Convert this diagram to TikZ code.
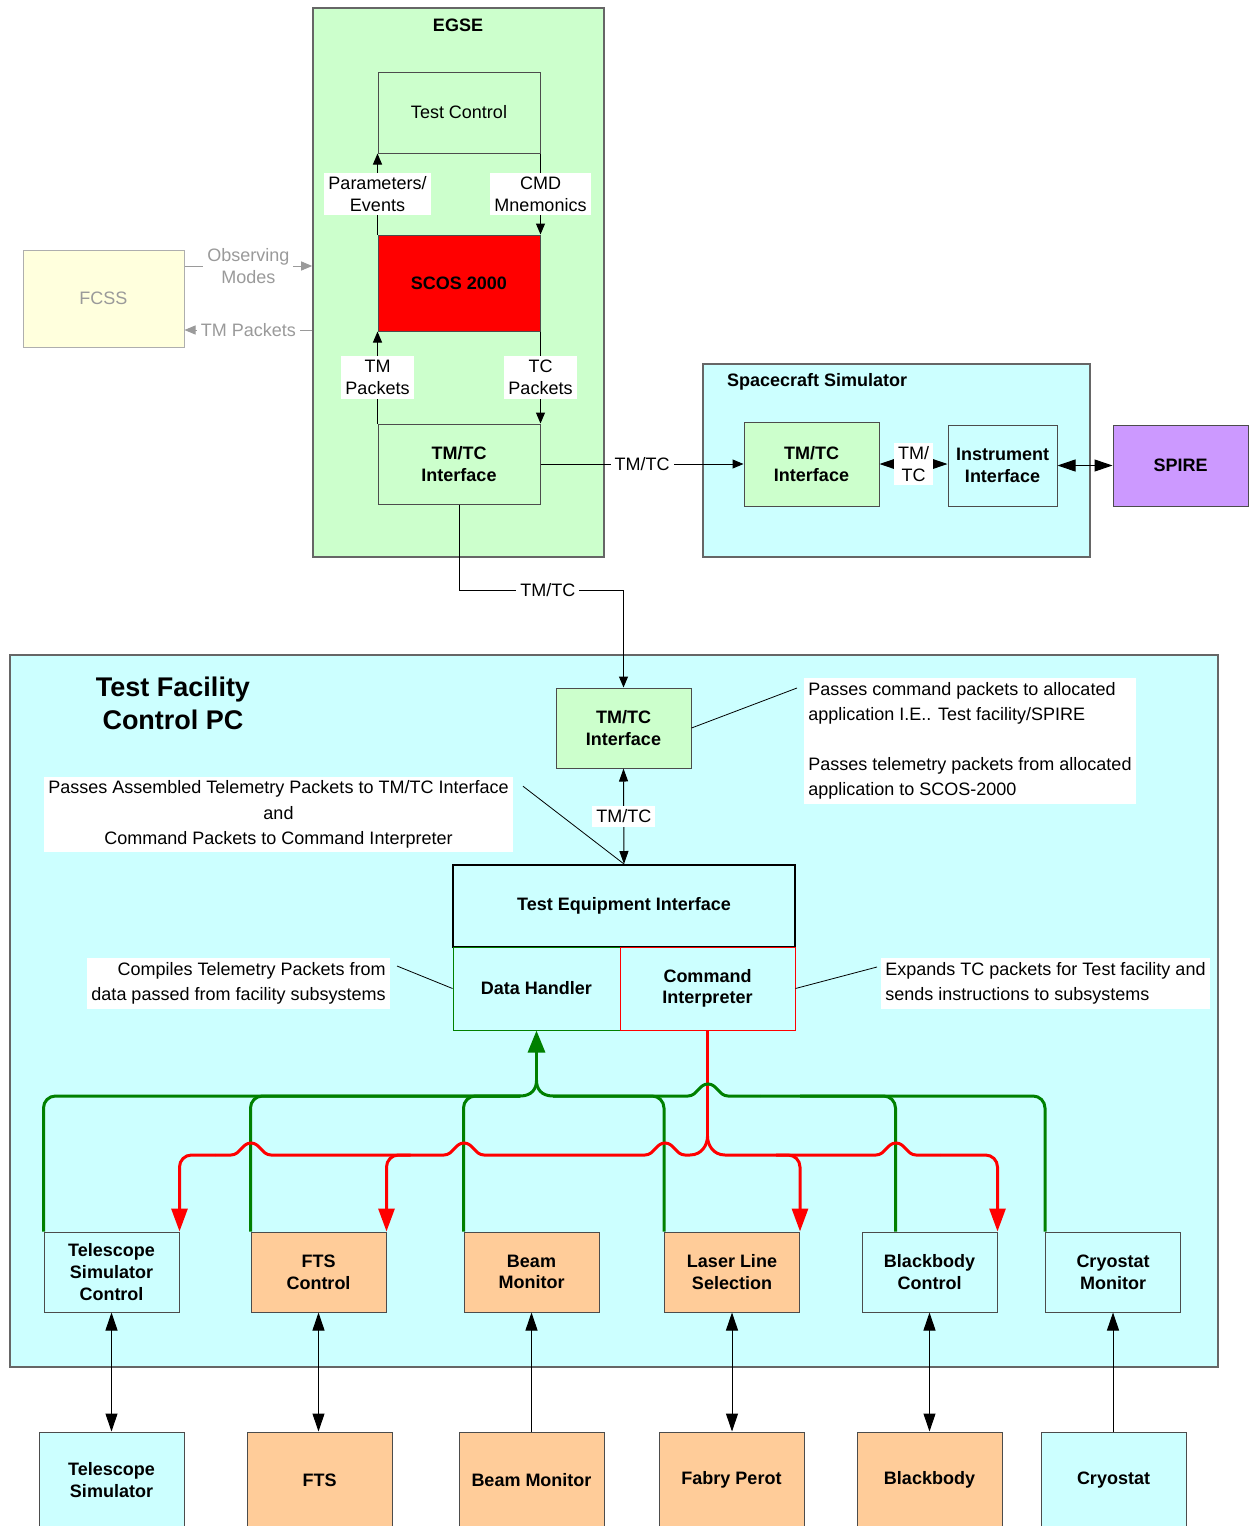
\documentclass[tikz,border=0pt]{standalone}
\usepackage{fontspec}
\setmainfont{Liberation Sans}
\usetikzlibrary{arrows.meta,calc}

\definecolor{egsegreen}{HTML}{CCFFCC}
\definecolor{pccyan}{HTML}{CCFFFF}
\definecolor{suborange}{HTML}{FFCC99}
\definecolor{spirepurple}{HTML}{CC99FF}
\definecolor{fcssyellow}{HTML}{FFFFDD}
\definecolor{fcssgray}{HTML}{9A9A9A}
\definecolor{busgreen}{HTML}{008000}

\begin{document}
\begin{tikzpicture}[x=0.5pt, y=-0.5pt,
every node/.style={font=\fontsize{9}{10.8}\selectfont},
wh/.style 2 args={minimum width=#1*0.5pt, minimum height=#2*0.5pt},
block/.style={rectangle, draw=black!70, line width=0.5pt, fill=#1, align=center,
              inner sep=1pt, font=\fontsize{9}{10.8}\selectfont\bfseries},
panel/.style={rectangle, draw=black!60, line width=0.8pt, fill=#1},
lbl/.style={fill=white, align=center, inner sep=2pt},
note/.style={fill=white, inner sep=2pt, font=\fontsize{9}{12.75}\selectfont},
line/.style={draw, line width=0.5pt, -{Triangle[length=5.5pt,width=4.5pt]}},
dline/.style={line, {Triangle[length=6.5pt,width=4.5pt]}-{Triangle[length=6.5pt,width=4.5pt]}},
bigline/.style={line, -{Triangle[length=9pt,width=6pt]}},
bigdline/.style={line, {Triangle[length=9pt,width=6pt]}-{Triangle[length=9pt,width=6pt]}},
gline/.style={line, draw=fcssgray, fill=fcssgray},
gbus/.style={draw=busgreen, line width=1.5pt},
rbus/.style={draw=red, line width=1.5pt},
roundbend/.style={rounded corners=6pt},
hop/.style 2 args={insert path={-- (#1-20,#2) .. controls (#1-11,#2) and (#1-9,#2-12) .. (#1,#2-12)
                   .. controls (#1+9,#2-12) and (#1+11,#2) .. (#1+20,#2)}}]

\path[fill=white] (0,0) rectangle (1248,1526);
\useasboundingbox (0,0) rectangle (1248,1526);

% EGSE
\node[panel=egsegreen, wh={291}{549}] (egse) at (458.5,282.5) {};
\node[font=\fontsize{9}{10.8}\selectfont\bfseries] (egsetitle) at (458,25) {EGSE};
\node[block=egsegreen, wh={162}{81}, font=\fontsize{9}{10.8}\selectfont] (testctl) at (459,112.5) {Test Control};
\node[block=red, wh={162}{96}] (scos) at (459,283) {SCOS 2000};
\node[block=egsegreen, wh={162}{80}] (egsetmtc) at (459,464) {TM/TC\\Interface};

% FCSS
\node[block=fcssyellow, draw=fcssgray!80, wh={161}{97}, text=fcssgray,
      font=\fontsize{9}{10.8}\selectfont] (fcss) at (103.5,298.5) {FCSS};

% spacecraft simulator
\node[panel=pccyan, wh={387}{193}] (scsim) at (896.5,460.5) {};
\node[anchor=west, font=\fontsize{9}{10.8}\selectfont\bfseries] (scsimtitle) at (720,382) {Spacecraft Simulator};
\node[block=egsegreen, wh={135}{84}] (sctmtc) at (811.5,464) {TM/TC\\Interface};
\node[block=pccyan, wh={109}{81}] (instif) at (1002.5,465.5) {Instrument\\Interface};
\node[block=spirepurple, wh={135}{81}] (spire) at (1180.5,465.5) {SPIRE};

% test facility control pc
\node[panel=pccyan, wh={1208}{712}] (tfcpc) at (614,1011) {};
\node[font=\fontsize{13.5}{16.5}\selectfont\bfseries, align=center] (tfcpctitle) at (173,703) {Test Facility\\Control PC};
\node[block=egsegreen, wh={135}{80}] (pctmtc) at (623.5,728) {TM/TC\\Interface};
\node[block=pccyan, draw=black, line width=1pt, wh={342}{82}] (tei) at (624,906) {Test Equipment Interface};
\node[block=pccyan, draw=busgreen, wh={167}{83}] (dh) at (536.5,988.5) {Data Handler};
\node[block=pccyan, draw=red, wh={175}{83}] (ci) at (707.5,988.5) {Command\\Interpreter};

% notes
\node[note, anchor=north west, align=left] (notetmtc) at (804,678)
  {Passes command packets to allocated\\application I.E.. Test facility/SPIRE\\[12pt]Passes telemetry packets from allocated\\application to SCOS-2000};
\node[note, align=center] (notetei) at (278.5,814.5)
  {Passes Assembled Telemetry Packets to TM/TC Interface\\and\\Command Packets to Command Interpreter};
\node[note, anchor=north east, align=right] (notedh) at (390,958)
  {Compiles Telemetry Packets from\\data passed from facility subsystems};
\node[note, anchor=north west, align=left] (noteci) at (881,958)
  {Expands TC packets for Test facility and\\sends instructions to subsystems};

% subsystems, row 1
\node[block=pccyan, wh={135}{80}] (tsc) at (111.5,1272) {Telescope\\Simulator\\Control};
\node[block=suborange, wh={135}{80}] (ftsc) at (318.5,1272) {FTS\\Control};
\node[block=suborange, wh={135}{80}] (bmc) at (531.5,1272) {Beam\\Monitor};
\node[block=suborange, wh={135}{80}] (lls) at (732,1272) {Laser Line\\Selection};
\node[block=pccyan, wh={135}{80}] (bbc) at (929.5,1272) {Blackbody\\Control};
\node[block=pccyan, wh={135}{80}] (crc) at (1113,1272) {Cryostat\\Monitor};

% hardware, row 2
\node[block=pccyan, wh={145}{96}] (ts) at (111.5,1480) {Telescope\\Simulator};
\node[block=suborange, wh={145}{96}] (fts) at (319.5,1480) {FTS};
\node[block=suborange, wh={145}{96}] (bm) at (531.5,1480) {Beam Monitor};
\node[block=suborange, wh={145}{96}] (fp) at (731.5,1480) {Fabry Perot};
\node[block=suborange, wh={145}{96}] (bb) at (929.5,1480) {Blackbody};
\node[block=pccyan, wh={145}{96}] (cr) at (1113.5,1480) {Cryostat};

% EGSE links
\draw[line] (scos.north west) -- node[lbl]{Parameters/\\Events} (testctl.south west);
\draw[line] (testctl.south east) -- node[lbl]{CMD\\Mnemonics} (scos.north east);
\draw[line] (egsetmtc.north west) -- node[lbl]{TM\\Packets} (scos.south west);
\draw[line] (scos.south east) -- node[lbl]{TC\\Packets} (egsetmtc.north east);
\draw[gline] ([yshift=16.25pt]fcss.east) -- node[lbl, text=fcssgray]{Observing\\Modes} ([yshift=16.25pt]fcss.east -| egse.west);
\draw[gline] ([yshift=-15.75pt]fcss.east -| egse.west) -- node[lbl, text=fcssgray]{TM Packets} ([yshift=-15.75pt]fcss.east);
\draw[line] (egsetmtc.east) -- node[lbl]{TM/TC} (sctmtc.west);
\draw[bigdline] (sctmtc.east) -- node[lbl]{TM/\\TC} (sctmtc.east -| instif.west);
\draw[bigdline] (instif.east) -- (spire.west);
\draw[line] (egsetmtc.south) -- ++(0,86) -| node[lbl, pos=0.27]{TM/TC} (pctmtc.north);

% control pc links
\draw[dline] (pctmtc.south) -- node[lbl]{TM/TC} (tei.north);
\draw (pctmtc.east) -- ([xshift=-3.5pt,yshift=-5pt]notetmtc.north west);
\draw ([xshift=5pt,yshift=-5pt]notetei.north east) -- (tei.north);
\draw ([xshift=3.5pt,yshift=-4pt]notedh.north east) -- (dh.west);
\draw (ci.east) -- ([xshift=-2pt,yshift=-4.5pt]noteci.north west);

\foreach \a/\b in {tsc/ts, ftsc/fts, lls/fp, bbc/bb}
  \draw[bigdline] (\a.south) -- (\a.south |- \b.north);
\foreach \a/\b in {bmc/bm, crc/cr}
  \draw[bigline] (\a.south |- \b.north) -- (\a.south);

% buses
\coordinate (gj) at ([yshift=-25pt]dh.south);
\coordinate (gl) at (520,1096);
\coordinate (gr) at (553,1096);
\coordinate (gr1) at (760,1096);
\coordinate (rj) at ([yshift=-53pt]ci.south);
\coordinate (rl0) at (215,1155);
\coordinate (rl) at (690,1155);
\coordinate (rr) at (725,1155);
\coordinate (rr1) at (940,1155);
\coordinate (bbcg) at ([xshift=17pt]bbc.north west);

\draw[rbus] (ci.south) -- (rj);

\draw[gbus, roundbend] (tsc.north west) |- (gl);
\draw[gbus] (gl) .. controls ([xshift=6pt]gl) and ([yshift=-4pt]gj) .. (gj);
\draw[gbus] (gj) .. controls ([yshift=-4pt]gj) and ([xshift=-6pt]gr) .. (gr) [hop={708}{1096}] -- (gr1);
\draw[gbus, roundbend] (gr1) -| (crc.north west);
\draw[gbus, roundbend] (ftsc.north west) |- (gl);
\draw[gbus, roundbend] (bmc.north west) |- (gl);
\draw[gbus, roundbend] (lls.north west) |- (gr);
\draw[gbus, roundbend] (bbcg) |- (lls.north east |- gr);
\draw[gbus, -{Triangle[length=11pt,width=8.5pt]}] (gj) -- (dh.south);

\draw[rbus, roundbend, {Triangle[length=11.5pt,width=8pt]}-] (tsc.north east) |- (rl0);
\draw[rbus] (rl0) [hop={251}{1155}] [hop={464}{1155}] [hop={665}{1155}] -- (rl)
  .. controls ([xshift=6pt]rl) and ([yshift=-4pt]rj) .. (rj);
\draw[rbus] (rj) .. controls ([yshift=-4pt]rj) and ([xshift=-6pt]rr) .. (rr) [hop={896}{1155}] -- (rr1);
\draw[rbus, roundbend, -{Triangle[length=11.5pt,width=8pt]}] (rr1) -| (bbc.north east);
\draw[rbus, roundbend, -{Triangle[length=11.5pt,width=8pt]}] ([xshift=12pt]ftsc.north east |- rl) -| (ftsc.north east);
\draw[rbus, roundbend, -{Triangle[length=11.5pt,width=8pt]}] ([xshift=-12pt]lls.north east |- rr) -| (lls.north east);
\end{tikzpicture}
\end{document}
